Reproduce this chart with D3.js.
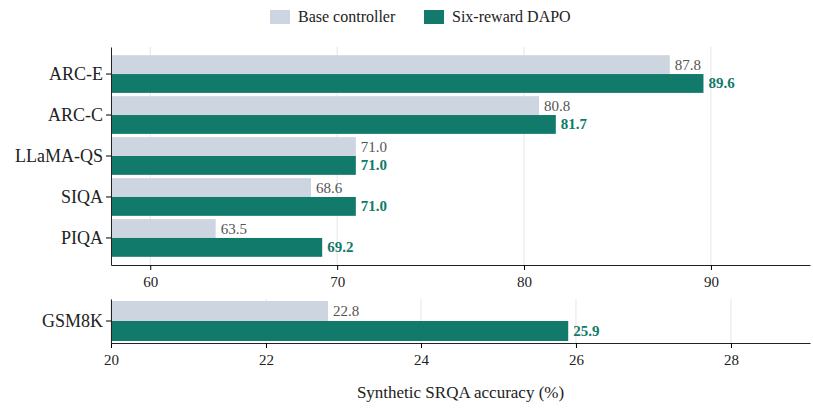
<!DOCTYPE html>
<html><head><meta charset="utf-8">
<script src="https://cdn.jsdelivr.net/npm/d3@7"></script>
<style>body{margin:0;background:#fff}text{font-family:"Liberation Serif","Times New Roman",serif}</style>
</head><body><svg id="c" width="813" height="410"></svg>
<script>
const categories = ['ARC-E', 'ARC-C', 'LLaMA-QS', 'SIQA', 'PIQA'];
const baseVals = [87.8, 80.8, 71.0, 68.6, 63.5];
const daposVals = [89.6, 81.7, 71.0, 71.0, 69.2];
const topTicks = [60, 70, 80, 90];
const gsmCategory = ['GSM8K'];
const gsmBase = [22.8];
const gsmDapo = [25.9];
const gsmTicks = [20, 22, 24, 26, 28];
const seriesNames = ['Base controller', 'Six-reward DAPO'];

const baseColor = '#cdd5e0', dapoColor = '#127a6a';
const svg = d3.select('#c');
const left = 111, right = 810;

function panel(cats, bVals, dVals, xDomain, ticks, top, bottom, pad) {
    const x = d3.scaleLinear().domain(xDomain).range([left, right]);
    const y = d3.scaleBand().domain(cats).range([top, bottom]).paddingInner(pad.inner).paddingOuter(pad.outer);
    const g = svg.append('g');
    g.selectAll('.grid').data(ticks).enter().append('line')
        .attr('x1', d => x(d)).attr('x2', d => x(d)).attr('y1', top).attr('y2', bottom)
        .attr('stroke', '#e6e6e6').attr('stroke-width', 1);
    const h = y.bandwidth() / 2;
    cats.forEach((c, i) => {
        g.append('rect').attr('x', left).attr('y', y(c)).attr('width', x(bVals[i]) - left).attr('height', h).attr('fill', baseColor);
        g.append('rect').attr('x', left).attr('y', y(c) + h).attr('width', x(dVals[i]) - left).attr('height', h).attr('fill', dapoColor);
        g.append('text').attr('x', x(bVals[i]) + 5).attr('y', y(c) + h / 2 + 5).attr('font-size', 15).attr('fill', '#555').text(bVals[i].toFixed(1));
        g.append('text').attr('x', x(dVals[i]) + 5).attr('y', y(c) + 1.5 * h + 5).attr('font-size', 15).attr('font-weight', 'bold').attr('fill', dapoColor).text(dVals[i].toFixed(1));
    });
    const ax = g.append('g').attr('transform', `translate(0,${bottom})`)
        .call(d3.axisBottom(x).tickValues(ticks).tickSize(5).tickSizeOuter(0));
    ax.select('.domain').attr('stroke', '#222');
    ax.selectAll('text').attr('font-size', 15).attr('fill', '#222').attr('dy', '0.9em');
    const ay = g.append('g').attr('transform', `translate(${left},0)`)
        .call(d3.axisLeft(y).tickSize(5).tickSizeOuter(0));
    ay.select('.domain').attr('stroke', '#222');
    ay.selectAll('text').attr('font-size', 18).attr('fill', '#222');
}

panel(categories, baseVals, daposVals, [57.9, 95.3], topTicks, 47, 265, {inner: 0.08, outer: 0.2});
panel(gsmCategory, gsmBase, gsmDapo, [20, 29.02], gsmTicks, 299, 343, {inner: 0, outer: 0.05});

svg.append('text').attr('x', (left + right) / 2).attr('y', 398).attr('text-anchor', 'middle')
    .attr('font-size', 17).attr('fill', '#222').text('Synthetic SRQA accuracy (%)');

const lg = svg.append('g');
[[270, baseColor], [424, dapoColor]].forEach((p, i) => {
    lg.append('rect').attr('x', p[0]).attr('y', 10).attr('width', 20).attr('height', 14).attr('fill', p[1]);
    lg.append('text').attr('x', p[0] + 28).attr('y', 22).attr('font-size', 16).attr('fill', '#222').text(seriesNames[i]);
});
</script></body></html>
